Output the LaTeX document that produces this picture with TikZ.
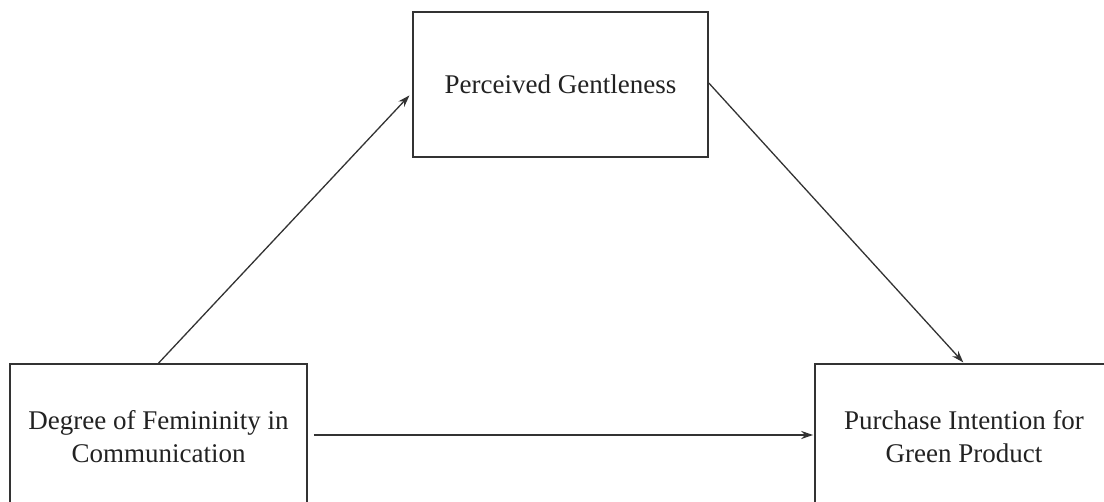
\documentclass[tikz,border=0pt]{standalone}
\usepackage{fontspec}
\setmainfont{Liberation Serif}
\usetikzlibrary{arrows.meta}
\definecolor{txt}{HTML}{222222}
\definecolor{ln}{HTML}{333333}
\begin{document}
\begin{tikzpicture}[x=1pt,y=-1pt,
  box/.style={draw=ln, line width=1.6pt, rectangle, align=center, inner sep=0pt,
    font=\fontsize{27}{33}\selectfont, text=txt},
  conn/.style={draw=ln, line width=1.3pt, -{Stealth[length=12pt,width=8pt]}}]
\useasboundingbox (0,0) rectangle (1104,502);
\fill[white] (0,0) rectangle (1104,502);
\node[box, minimum width=295pt, minimum height=145pt] (T) at (560.5,84.5) {Perceived Gentleness};
\node[box, minimum width=297pt, minimum height=146pt] (L) at (158.5,437) {Degree of Femininity in\\Communication};
\node[box, minimum width=298pt, minimum height=146pt] (R) at (964,437) {Purchase Intention for\\Green Product};
\draw[conn, shorten >=4pt] (L.north) -- ([yshift=-8pt]T.west);
\draw[conn, shorten >=1pt] ([yshift=1.5pt]T.east) -- (R.north);
\draw[conn, shorten <=6pt, shorten >=1pt] ([yshift=2pt]L.east) -- ([yshift=2pt]R.west);
\end{tikzpicture}
\end{document}
